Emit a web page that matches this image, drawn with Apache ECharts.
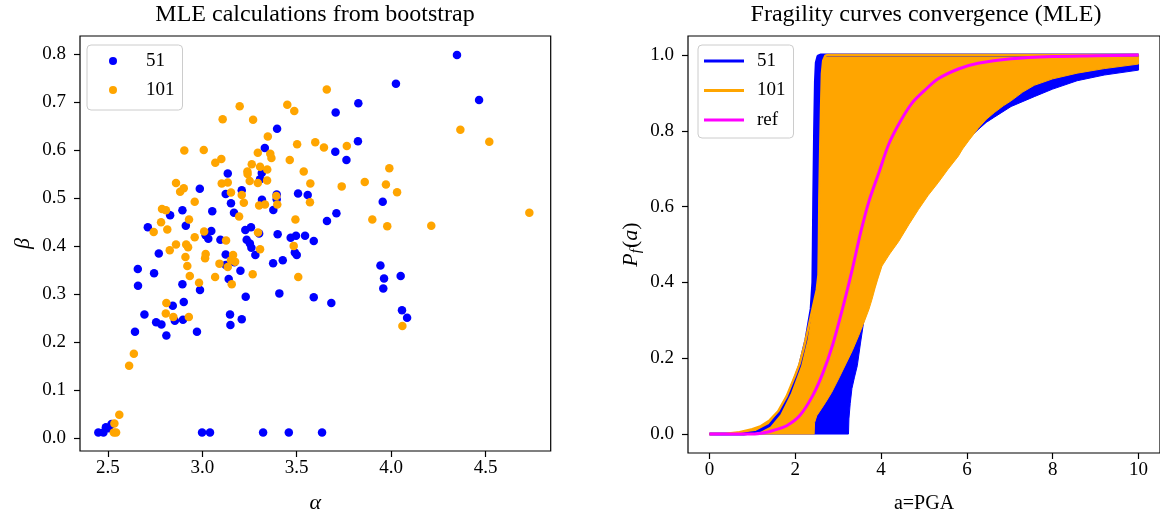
<!DOCTYPE html>
<html><head><meta charset="utf-8">
<script src="https://cdn.jsdelivr.net/npm/echarts@6/dist/echarts.min.js"></script>
<style>html,body{margin:0;padding:0;background:#fff}#c{width:1160px;height:519px}</style>
</head><body><div id="c"></div>
<script>
// ---------- text ----------
const leftTitle = 'MLE calculations from bootstrap';
const rightTitle = 'Fragility curves convergence (MLE)';
const legendLeftLabels = ['51', '101'];
const legendRightLabels = ['51', '101', 'ref'];

// ---------- tick values ----------
const leftXTicks = [2.5, 3.0, 3.5, 4.0, 4.5];
const leftYTicks = [0.0, 0.1, 0.2, 0.3, 0.4, 0.5, 0.6, 0.7, 0.8];
const rightXTicks = [0, 2, 4, 6, 8, 10];
const rightYTicks = [0.0, 0.2, 0.4, 0.6, 0.8, 1.0];

// ---------- left panel: bootstrap MLE (alpha, beta) ----------
const points51 = [
  [3.706,0.678],[3.704,0.596],[3.396,0.644],[3.331,0.604],[3.135,0.551],[3.315,0.552],[3.306,0.539],
  [2.987,0.519],[3.209,0.516],[3.124,0.508],[3.152,0.489],[3.316,0.496],[3.394,0.507],[3.394,0.497],
  [3.376,0.475],[3.507,0.509],[3.558,0.506],[2.895,0.474],[2.830,0.464],[3.053,0.472],[3.168,0.469],
  [2.712,0.439],[2.913,0.442],[3.048,0.431],[3.018,0.422],[3.032,0.415],[3.096,0.413],[3.228,0.433],
  [3.258,0.439],[3.301,0.426],[3.235,0.413],[3.252,0.405],[3.399,0.424],[3.468,0.417],[3.496,0.421],
  [3.544,0.421],[3.590,0.410],[3.660,0.452],[3.710,0.468],
  [2.770,0.384],[2.659,0.352],[2.745,0.343],[2.660,0.317],[2.895,0.320],[2.988,0.308],[3.260,0.396],
  [3.281,0.381],[3.124,0.382],[3.124,0.360],[3.140,0.331],[3.202,0.348],[3.170,0.366],[3.230,0.294],
  [3.375,0.364],[3.426,0.370],[3.408,0.301],[3.490,0.386],[3.500,0.381],[3.590,0.293],[3.683,0.281],
  [2.844,0.275],[2.902,0.283],[2.694,0.257],[2.756,0.241],[2.784,0.236],[2.855,0.244],[2.898,0.246],
  [2.810,0.213],[2.644,0.221],[2.972,0.221],[3.147,0.257],[3.149,0.235],[3.209,0.247],
  [2.450,0.011],[2.477,0.011],[2.490,0.022],[2.520,0.029],[2.505,0.020],[2.999,0.011],[3.041,0.011],
  [3.322,0.011],[3.458,0.011],[3.634,0.011],
  [4.348,0.798],[4.025,0.738],[4.465,0.704],[3.826,0.697],[3.824,0.618],[3.763,0.579],[3.955,0.492],
  [3.943,0.359],[3.962,0.332],[4.050,0.337],[3.958,0.311],[4.057,0.266],[4.084,0.250]
];
const points101 = [
  [3.659,0.726],[3.198,0.691],[3.450,0.694],[3.487,0.681],[3.108,0.664],[3.269,0.663],[3.347,0.628],
  [3.502,0.612],[3.598,0.616],[3.644,0.605],[2.905,0.599],[3.008,0.600],[3.294,0.594],[3.360,0.592],
  [3.366,0.583],[3.463,0.579],[3.069,0.573],[3.101,0.581],[3.262,0.570],[3.239,0.555],[3.240,0.550],
  [3.306,0.565],[3.344,0.559],[3.537,0.555],[3.251,0.535],[3.294,0.531],[3.343,0.536],[3.103,0.530],
  [3.135,0.532],[3.572,0.530],[2.861,0.531],[2.883,0.513],[2.902,0.520],[3.152,0.511],[3.209,0.506],
  [3.220,0.490],[3.392,0.504],[3.397,0.486],[3.301,0.484],[3.332,0.486],[3.570,0.491],[2.960,0.492],
  [2.787,0.477],[2.808,0.474],[2.930,0.455],[2.782,0.449],[2.743,0.429],[2.815,0.434],[3.195,0.461],
  [3.493,0.455],[2.960,0.418],[3.010,0.430],[3.126,0.411],[3.295,0.428],
  [2.828,0.391],[2.861,0.403],[2.915,0.403],[2.925,0.397],[2.911,0.377],[2.921,0.358],[2.934,0.337],
  [2.983,0.323],[3.018,0.383],[3.015,0.374],[3.091,0.363],[3.068,0.335],[3.163,0.381],[3.152,0.370],
  [3.174,0.367],[3.135,0.356],[3.156,0.320],[3.267,0.341],[3.306,0.393],[3.484,0.400],[3.508,0.335],
  [2.810,0.281],[2.807,0.259],[2.847,0.252],[2.929,0.252],[2.638,0.175],[2.613,0.150],[2.561,0.048],
  [2.535,0.030],[2.532,0.011],[2.544,0.011],
  [4.366,0.642],[4.519,0.617],[3.765,0.608],[3.738,0.524],[3.860,0.533],[3.972,0.528],[3.990,0.562],
  [4.031,0.512],[3.900,0.455],[3.979,0.441],[4.212,0.442],[4.731,0.469],[4.059,0.233]
];

// ---------- right panel: envelopes and reference (a, Pf) ----------
const upper51 = [[0,0],[0.8,0],[1.1,0.005],[1.4,0.023],[1.63,0.055],[1.87,0.11],[2.1,0.18],[2.25,0.25],
  [2.37,0.33],[2.41,0.40],[2.42,0.5],[2.43,0.62],[2.45,0.8],[2.47,0.93],[2.49,0.98],[2.53,0.997],[2.6,1.0],[10,1.0]];
const lower51 = [[0,0],[3.24,0],[3.25,0.04],[3.28,0.08],[3.32,0.12],[3.38,0.15],[3.445,0.18],[3.52,0.24],
  [3.6,0.30],[3.8,0.37],[4.0,0.445],[4.5,0.545],[5.0,0.635],[5.5,0.705],[6.0,0.775],[6.26,0.803],[6.45,0.822],
  [6.64,0.836],[7.03,0.864],[7.57,0.89],[8.0,0.91],[8.57,0.932],[9.2,0.947],[10,0.96]];
const upper101 = [[0,0],[0.4,0.001],[0.7,0.005],[1.0,0.013],[1.2,0.021],[1.4,0.036],[1.6,0.06],[1.8,0.10],
  [2.0,0.155],[2.1,0.185],[2.2,0.228],[2.3,0.278],[2.42,0.34],[2.5,0.38],[2.54,0.42],[2.55,0.5],[2.56,0.62],
  [2.58,0.75],[2.6,0.86],[2.62,0.95],[2.65,0.985],[2.7,0.998],[2.76,1.0],[10,1.0]];
const lower101 = [[0,0],[2.44,0],[2.45,0.03],[2.5,0.048],[2.6,0.065],[2.71,0.084],[2.85,0.11],[3.02,0.148],
  [3.18,0.185],[3.33,0.22],[3.48,0.26],[3.62,0.30],[3.72,0.33],[3.79,0.356],[3.86,0.385],[3.92,0.408],
  [4.02,0.443],[4.2,0.475],[4.41,0.508],[4.65,0.553],[4.87,0.592],[5.1,0.63],[5.33,0.663],[5.55,0.697],
  [5.8,0.733],[5.9,0.752],[6.05,0.775],[6.18,0.794],[6.26,0.806],[6.45,0.83],[6.64,0.848],[6.85,0.866],
  [7.03,0.879],[7.3,0.902],[7.57,0.92],[8.0,0.937],[8.57,0.952],[9.2,0.964],[10,0.976]];
const refCurve = [[0,0],[1.0,0.0],[1.3,0.004],[1.5,0.01],[1.8,0.022],[2.1,0.048],[2.4,0.10],[2.64,0.16],
  [2.87,0.235],[3.1,0.33],[3.33,0.435],[3.52,0.53],[3.72,0.615],[3.95,0.69],[4.18,0.765],[4.45,0.825],
  [4.72,0.873],[5.0,0.905],[5.33,0.937],[5.8,0.963],[6.26,0.978],[7.03,0.99],[8,0.996],[9,0.998],[10,1.0]];

// ---------- styling ----------
const FONT = "'Liberation Serif', 'DejaVu Serif', serif";
const BLUE = '#0000ff', ORANGE = '#ffa500', MAGENTA = '#ff00ff';
const labelStyle = {fontFamily: FONT, fontSize: 19, color: '#000'};

function band(name, upper, lower, color, z) {
  const poly = upper.concat(lower.slice().reverse());
  return {
    type: 'custom', name: name, xAxisIndex: 1, yAxisIndex: 1, z: z,
    data: poly, silent: true, animation: false,
    renderItem: function (params, api) {
      if (params.dataIndex !== 0) return null;
      return {
        type: 'polygon',
        shape: {points: poly.map(function (p) { return api.coord(p); })},
        style: {fill: color, stroke: color, lineWidth: 1}
      };
    }
  };
}
function curve(name, data, color, width, z, smooth) {
  return {type: 'line', name: name, xAxisIndex: 1, yAxisIndex: 1, data: data, z: z,
    symbol: 'none', showSymbol: false, animation: false, silent: true,
    smooth: smooth || false,
    lineStyle: {color: color, width: width}, itemStyle: {color: color}};
}
function axisCommon(ticks, fmt, margin) {
  return {
    axisLine: {show: false, onZero: false}, splitLine: {show: false},
    axisTick: {show: true, customValues: ticks, length: 6, lineStyle: {color: '#000', width: 1.2}},
    axisLabel: Object.assign({customValues: ticks, formatter: fmt, margin: margin}, labelStyle)
  };
}
const nameMap = {s51: legendLeftLabels[0], s101: legendLeftLabels[1], c51: legendRightLabels[0], c101: legendRightLabels[1], ref: legendRightLabels[2]};

const option = {
  backgroundColor: '#fff',
  animation: false,
  title: [
    {text: leftTitle, left: 315, top: 3, textAlign: 'center', padding: 0,
      textStyle: {fontFamily: FONT, fontSize: 24, fontWeight: 'normal', color: '#000'}},
    {text: rightTitle, left: 926, top: 3, textAlign: 'center', padding: 0,
      textStyle: {fontFamily: FONT, fontSize: 24, fontWeight: 'normal', color: '#000'}}
  ],
  grid: [
    {left: 80, top: 36, width: 470.7, height: 418, show: true, borderColor: '#000', borderWidth: 1.2, backgroundColor: 'transparent'},
    {left: 688, top: 36, width: 475.4, height: 418, show: true, borderColor: '#000', borderWidth: 1.2, backgroundColor: 'transparent'}
  ],
  xAxis: [
    Object.assign({gridIndex: 0, type: 'value', min: 2.353, max: 4.844, name: 'α', nameLocation: 'middle', nameGap: 41,
      nameTextStyle: {fontFamily: FONT, fontSize: 22, fontStyle: 'italic', color: '#000'}},
      axisCommon(leftXTicks, function (v) { return v.toFixed(1); }, 8)),
    Object.assign({gridIndex: 1, type: 'value', min: -0.5, max: 10.5, name: 'a=PGA', nameLocation: 'middle', nameGap: 41,
      nameTextStyle: {fontFamily: FONT, fontSize: 20, color: '#000'}},
      axisCommon(rightXTicks, function (v) { return String(Math.round(v)); }, 8))
  ],
  yAxis: [
    Object.assign({gridIndex: 0, type: 'value', min: -0.0275, max: 0.8374, name: 'β', nameLocation: 'middle', nameGap: 46,
      nameTextStyle: {fontFamily: FONT, fontSize: 22, fontStyle: 'italic', color: '#000'}},
      axisCommon(leftYTicks, function (v) { return v.toFixed(1); }, 14)),
    Object.assign({gridIndex: 1, type: 'value', min: -0.05, max: 1.05,
      name: '{i|P}{s|f}{n|(}{i|a}{n|)}', nameLocation: 'middle', nameGap: 44,
      nameTextStyle: {fontFamily: FONT, fontSize: 22, color: '#000',
        rich: {
          i: {fontFamily: FONT, fontSize: 22, fontStyle: 'italic', color: '#000', lineHeight: 26},
          n: {fontFamily: FONT, fontSize: 22, color: '#000', lineHeight: 26},
          s: {fontFamily: FONT, fontSize: 15, fontStyle: 'italic', color: '#000', lineHeight: 14, verticalAlign: 'bottom', padding: [0, 1, 0, 0]}
        }}},
      axisCommon(rightYTicks, function (v) { return v.toFixed(1); }, 14))
  ],
  legend: [
    {data: ['s51', 's101'], orient: 'vertical', left: 87, top: 45, padding: [6, 8, 10, 22],
      icon: 'circle', itemWidth: 8, itemHeight: 8, itemGap: 9, selectedMode: false,
      formatter: function (n) { return nameMap[n]; },
      textStyle: {fontFamily: FONT, fontSize: 19, color: '#000', lineHeight: 20, padding: [0, 0, 0, 24]},
      borderColor: '#cccccc', borderWidth: 1, borderRadius: 4, backgroundColor: 'rgba(255,255,255,0.8)'},
    {data: ['c51', 'c101', 'ref'], orient: 'vertical', left: 698, top: 45, padding: [6, 8, 8, 6],
      icon: 'rect', itemWidth: 40, itemHeight: 3, itemGap: 9.5, selectedMode: false,
      formatter: function (n) { return nameMap[n]; },
      textStyle: {fontFamily: FONT, fontSize: 19, color: '#000', lineHeight: 20, padding: [0, 0, 0, 8]},
      borderColor: '#cccccc', borderWidth: 1, borderRadius: 4, backgroundColor: 'rgba(255,255,255,0.8)'}
  ],
  series: [
    {type: 'scatter', name: 's51', xAxisIndex: 0, yAxisIndex: 0, data: points51, symbolSize: 8.5,
      itemStyle: {color: BLUE, opacity: 1}, silent: true, z: 2},
    {type: 'scatter', name: 's101', xAxisIndex: 0, yAxisIndex: 0, data: points101, symbolSize: 8.5,
      itemStyle: {color: ORANGE, opacity: 1}, silent: true, z: 3},
    band('band51', upper51, lower51, BLUE, 1),
    band('band101', upper101, lower101, ORANGE, 2),
    curve('c51', upper51, BLUE, 3, 3),
    curve('c101', upper101, ORANGE, 2.4, 4),
    curve('ref', refCurve, MAGENTA, 3, 5, 0.3)
  ]
};
const chart = echarts.init(document.getElementById('c'), null, {renderer: 'canvas'});
chart.setOption(option);
</script>
</body></html>
